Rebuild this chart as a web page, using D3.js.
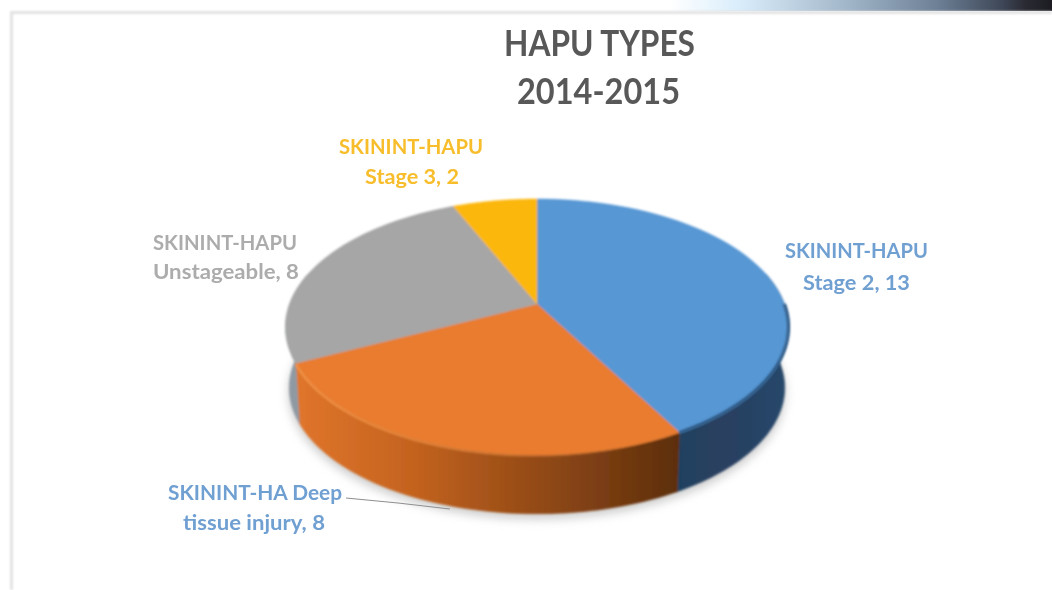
<!DOCTYPE html>
<html>
<head>
<meta charset="utf-8">
<script src="https://cdn.jsdelivr.net/npm/d3@7"></script>
<style>
  html, body { margin: 0; padding: 0; background: #fff; }
  svg { display: block; font-family: Lato, "Open Sans", sans-serif; font-weight: 700; }
</style>
</head>
<body>
<svg id="chart" width="1052" height="590"></svg>
<script>
const titleLines = ["HAPU TYPES", "2014-2015"];
const categories = ["Stage 2", "Deep tissue injury", "Unstageable", "Stage 3"];
const values = [13, 8, 8, 2];
const labelLines = [
  ["SKININT-HAPU", "Stage 2, 13"],
  ["SKININT-HA Deep", "tissue injury, 8"],
  ["SKININT-HAPU", "Unstageable, 8"],
  ["SKININT-HAPU", "Stage 3, 2"]
];

const topColors = ["#5797d4", "#e97c2e", "#a6a6a6", "#fcb70c"];
const labelColors = ["#6f9fd2", "#6f9fd2", "#acacac", "#f7bd2c"];
// side wall gradients, left to right
const sideColors = [
  ["#1f3f5f", "#2a3f5f", "#26476a"],
  ["#e0752b", "#c4631f", "#5c2e0d"],
  ["#8f99a2", "#9aa1a7", "#a3a9ae"],
  ["#b8860b", "#b8860b", "#b8860b"]
];
// [left, right, baseline] of each text line, measured on the picture
const titleBoxes = [[504, 695, 56], [517, 680, 104]];
const labelBoxes = [
  [[785, 928, 258], [803, 910, 290]],
  [[168, 342, 500], [183, 325, 530]],
  [[153, 297, 250], [153, 299, 279]],
  [[339, 483, 154], [365, 459, 184]]
];

const width = 1052, height = 590;
const cx = 537, cy = 304;
// tilted disc: back edge is squeezed, front edge is stretched
const tilt = 0.18, rX = 247.4, rY = 123.9, depth = 61, baseScale = 0.985;

const svg = d3.select("#chart");
const defs = svg.append("defs");

const project = (angle, scale = 1, drop = 0) => {
  const u = Math.sin(angle), v = Math.cos(angle), w = 1 + tilt * v;
  return [cx + scale * rX * u / w, cy + drop - scale * rY * v / w];
};

const sample = (a0, a1, scale, drop) =>
  d3.range(0, 61).map(i => project(a0 + (a1 - a0) * i / 60, scale, drop));

const line = d3.line();

defs.append("filter").attr("id", "soft")
  .attr("x", "-5%").attr("y", "-5%").attr("width", "110%").attr("height", "110%")
  .append("feGaussianBlur").attr("stdDeviation", 0.8);
defs.append("filter").attr("id", "textSoft")
  .attr("x", "-5%").attr("y", "-10%").attr("width", "110%").attr("height", "120%")
  .append("feGaussianBlur").attr("stdDeviation", 0.6);
defs.append("filter").attr("id", "rim")
  .attr("x", "-5%").attr("y", "-20%").attr("width", "110%").attr("height", "140%")
  .append("feGaussianBlur").attr("stdDeviation", 1.2);
defs.append("filter").attr("id", "shadow")
  .attr("x", "-10%").attr("y", "-10%").attr("width", "120%").attr("height", "120%")
  .append("feGaussianBlur").attr("stdDeviation", 5);

const corner = defs.append("linearGradient").attr("id", "corner");
[[0, "#ffffff"], [0.18, "#d9edfb"], [0.45, "#a5b9cc"], [0.7, "#6d8096"], [0.87, "#3e4757"], [0.93, "#2a2a33"], [1, "#1c1c22"]]
  .forEach(d => corner.append("stop").attr("offset", d[0]).attr("stop-color", d[1]));

sideColors.forEach((c, i) => {
  const g = defs.append("linearGradient").attr("id", `side${i}`)
    .attr("gradientUnits", "userSpaceOnUse")
    .attr("x1", i === 0 ? 680 : 296).attr("x2", i === 0 ? 789 : 680)
    .attr("y1", 0).attr("y2", 0);
  g.append("stop").attr("offset", 0).attr("stop-color", c[0]);
  g.append("stop").attr("offset", 0.3).attr("stop-color", c[1]);
  g.append("stop").attr("offset", 1).attr("stop-color", c[2]);
});

// frame left over from the slide
svg.append("rect")
  .attr("x", 670).attr("y", 0).attr("width", 382).attr("height", 11)
  .attr("fill", "url(#corner)");
svg.append("path")
  .attr("d", "M11.5,590V12.5H1052")
  .attr("fill", "none")
  .attr("stroke", "#dedede")
  .attr("stroke-width", 2.5)
  .attr("filter", "url(#soft)");

const arcs = d3.pie().sort(null).value(d => d)(values);
const chart = svg.append("g").attr("filter", "url(#soft)");

// ground shadow
svg.insert("path", "g")
  .attr("d", line(sample(0, 2 * Math.PI, 0.99, 66)) + "Z")
  .attr("fill", "#cfcfcf")
  .attr("filter", "url(#shadow)");

// side walls, only the part facing us
const frontStart = Math.PI * 0.42, frontEnd = Math.PI * 1.58;
arcs.forEach((d, i) => {
  const a0 = Math.max(d.startAngle, frontStart), a1 = Math.min(d.endAngle, frontEnd);
  if (a1 <= a0) return;
  const pts = sample(a0, a1, 1, 0).concat(sample(a1, a0, baseScale, depth));
  chart.append("path")
    .attr("d", line(pts) + "Z")
    .attr("fill", `url(#side${i})`)
    .attr("stroke", `url(#side${i})`)
    .attr("stroke-width", 0.5);
});

// top face
chart.selectAll("path.slice")
  .data(arcs)
  .enter()
  .append("path")
  .attr("class", "slice")
  .attr("fill", (d, i) => topColors[i])
  .attr("stroke", (d, i) => topColors[i])
  .attr("stroke-width", 0.5)
  .attr("d", d => line([[cx, cy]].concat(sample(d.startAngle, d.endAngle, 1, 0))) + "Z");

// bevel highlight along the orange front edge, fades toward the dark end
const rimGrad = defs.append("linearGradient").attr("id", "rimGrad")
  .attr("gradientUnits", "userSpaceOnUse")
  .attr("x1", 296).attr("x2", 640).attr("y1", 0).attr("y2", 0);
rimGrad.append("stop").attr("offset", 0).attr("stop-color", "#f59a4e").attr("stop-opacity", 0.9);
rimGrad.append("stop").attr("offset", 1).attr("stop-color", "#f59a4e").attr("stop-opacity", 0);
svg.append("path")
  .attr("d", line(sample(arcs[1].startAngle, arcs[1].endAngle, 1, 1)))
  .attr("fill", "none")
  .attr("stroke", "url(#rimGrad)")
  .attr("stroke-width", 2)
  .attr("filter", "url(#rim)");

// blue edge melts into the dark wall, and the wall wraps up the right side
svg.append("path")
  .attr("d", line(sample(Math.PI * 0.5, arcs[0].endAngle, 1, 0)))
  .attr("fill", "none")
  .attr("stroke", "#2f5a86")
  .attr("stroke-width", 3)
  .attr("filter", "url(#rim)");

// leader line for the deep tissue label
svg.append("path")
  .attr("d", d3.line()([[346, 498], [398, 503], [450, 509]]))
  .attr("fill", "none")
  .attr("stroke", "#8f8f8f")
  .attr("stroke-width", 1.2);

const textLayer = svg.append("g").attr("filter", "url(#textSoft)");

// stretch every line to its measured width since Calibri is not installed
const fitText = (sel, boxes) => sel
  .attr("x", (d, i) => boxes[i][0])
  .attr("y", (d, i) => boxes[i][2])
  .attr("textLength", (d, i) => boxes[i][1] - boxes[i][0])
  .attr("lengthAdjust", "spacingAndGlyphs")
  .text(d => d);

textLayer.selectAll("text.title")
  .data(titleLines)
  .enter()
  .append("text")
  .attr("class", "title")
  .attr("fill", "#595959")
  .style("font-size", "36px")
  .call(fitText, titleBoxes);

labelLines.forEach((lines, i) => {
  textLayer.selectAll(null)
    .data(lines)
    .enter()
    .append("text")
    .attr("fill", labelColors[i])
    .style("font-size", "20px")
    .call(fitText, labelBoxes[i]);
});
</script>
</body>
</html>
